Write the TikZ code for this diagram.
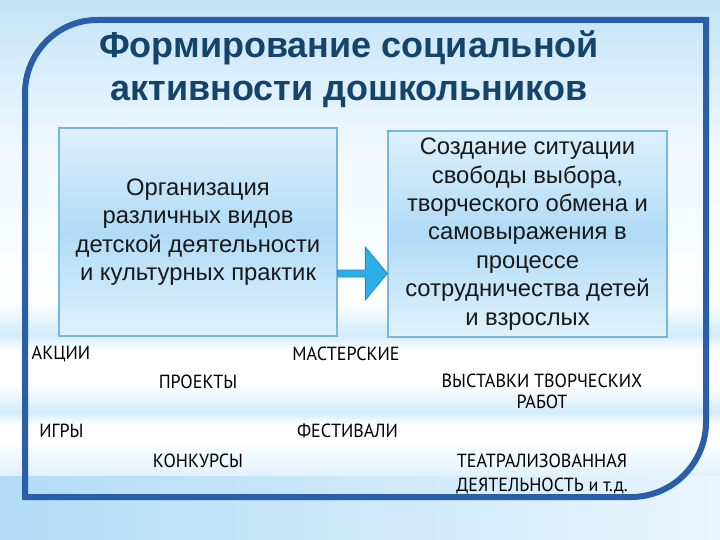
\documentclass[tikz,border=0pt]{standalone}
\usepackage{fontspec}
\setmainfont{Liberation Sans}
\newfontfamily\lowfont[FakeStretch=0.95]{PT Sans}
\usetikzlibrary{calc}
\definecolor{framecol}{HTML}{2B5EA8}
\definecolor{titlecol}{HTML}{15446B}
\definecolor{boxborder}{HTML}{78B7DC}
\definecolor{boxtop}{HTML}{DDF0FC}
\definecolor{boxmid}{HTML}{B0DBF6}
\definecolor{boxbot}{HTML}{E0F2FD}
\definecolor{skytop}{HTML}{C3E3F7}
\definecolor{skypale}{HTML}{F3FAFF}
\definecolor{streak}{HTML}{D3EBFA}
\definecolor{bandleft}{HTML}{B2DCF6}
\definecolor{bandright}{HTML}{E8F5FD}
\definecolor{arrowfill}{HTML}{2EAEE8}
\definecolor{arrowline}{HTML}{2A86C2}
\tikzset{
  bluebox/.style={draw=boxborder, line width=1.3pt, top color=boxtop, bottom color=boxbot, middle color=boxmid, align=center, text=black!90, font=\fontsize{23.8}{28.4}\selectfont, inner sep=0pt},
  lowtext/.style={font=\lowfont\fontsize{19}{21}\selectfont, text=black, align=center, inner sep=0pt},
  titletext/.style={font=\bfseries\fontsize{36}{43}\selectfont, text=titlecol, align=center, inner sep=0pt},
  framestyle/.style={draw=framecol, line width=6pt, line join=miter}
}
\begin{document}
\begin{tikzpicture}[x=1pt, y=-1pt]
\useasboundingbox (0,0) rectangle (720,540);
% background
\shade[top color=skytop, bottom color=skypale] (0,0) rectangle (720,160);
\fill[skypale] (0,160) rectangle (720,200);
\shade[top color=skypale, bottom color=white] (0,200) rectangle (720,300);
\fill[white] (0,300) rectangle (720,476);
\shade[top color=white, bottom color=streak] (0,300) rectangle (720,335);
\shade[top color=streak, bottom color=white] (0,335) rectangle (720,350);
\shade[top color=white, bottom color=streak] (0,385) rectangle (720,412);
\shade[top color=streak, bottom color=white] (0,412) rectangle (720,425);
\shade[top color=white, bottom color=streak!70] (0,440) rectangle (720,476);
\shade[left color=bandleft, right color=bandright] (0,476) rectangle (720,540);
% frame
\draw[framestyle] (25,497) -- (25,93) .. controls (25,53.2) and (57.2,20) .. (97,20) -- (706,20) -- (706,422) .. controls (706,463.4) and (672.4,497) .. (631,497) -- cycle;
% title
\node[titletext] (T) at (349,69) {Формирование социальной\\активности дошкольников};
% boxes
\node[bluebox, minimum width=278pt, minimum height=208pt] (L) at (198,232) {Организация\\различных видов\\детской деятельности\\и культурных практик};
\node[bluebox, minimum width=279pt, minimum height=206pt] (R) at (527.5,234) {Создание ситуации\\свободы выбора,\\творческого обмена и\\самовыражения в\\процессе\\сотрудничества детей\\и взрослых};
% arrow
\coordinate (as) at ($(L.east)+(0,41.5)$);
\coordinate (tip) at (R.west |- as);
\coordinate (hb) at ($(tip)+(-22,0)$);
\draw[fill=arrowfill, draw=arrowline, line width=0.8pt] ($(as)+(0,-3.5)$) -- (hb |- {$(as)+(0,-3.5)$}) -- ($(hb)+(0,-26.5)$) -- (tip) -- ($(hb)+(0,26.5)$) -- (hb |- {$(as)+(0,3.5)$}) -- ($(as)+(0,3.5)$) -- cycle;
% lower texts
\node[lowtext] (t1) at (61,354) {АКЦИИ};
\node[lowtext] (t2) at (346,354) {МАСТЕРСКИЕ};
\node[lowtext] (t3) at (198,382) {ПРОЕКТЫ};
\node[lowtext] (t4) at (542,391) {ВЫСТАВКИ ТВОРЧЕСКИХ\\РАБОТ};
\node[lowtext] (t5) at (61.5,431) {ИГРЫ};
\node[lowtext] (t6) at (347.5,431) {ФЕСТИВАЛИ};
\node[lowtext] (t7) at (198,461) {КОНКУРСЫ};
\node[lowtext, font=\lowfont\fontsize{19}{24}\selectfont] (t8) at (542,474) {ТЕАТРАЛИЗОВАННАЯ\\ДЕЯТЕЛЬНОСТЬ и т.д.};
\end{tikzpicture}
\end{document}
